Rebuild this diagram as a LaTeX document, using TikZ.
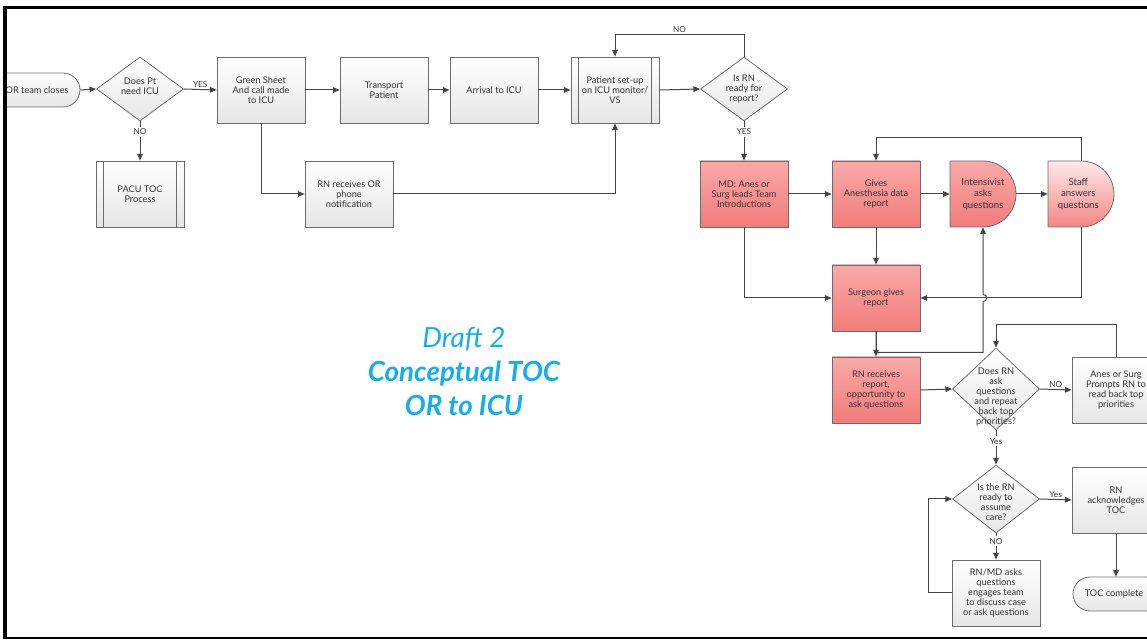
\documentclass[tikz,border=0pt]{standalone}
\usepackage{fontspec}
\setmainfont{Lato}
\usetikzlibrary{shapes.geometric,arrows.meta,calc}
\definecolor{ln}{HTML}{454545}
\definecolor{bd}{HTML}{6C6C6C}
\definecolor{gbot}{HTML}{E6E6E6}
\definecolor{rtop}{HTML}{F9A9A9}
\definecolor{rbot}{HTML}{F27B7B}
\definecolor{stop}{HTML}{FDEAEA}
\definecolor{sbot}{HTML}{F38686}
\definecolor{tx}{HTML}{333333}
\definecolor{cy}{HTML}{14AEEE}
\begin{document}
\begin{tikzpicture}[x=0.75pt,y=-0.75pt,
  base/.style={text=tx,font=\fontsize{6.9}{7.4}\selectfont,align=center,inner sep=1pt},
  gbox/.style={base,rectangle,draw=bd,line width=0.6pt,top color=white,bottom color=gbot,minimum width=66pt,minimum height=49.5pt},
  rbox/.style={gbox,top color=rtop,bottom color=rbot},
  dec/.style={base,diamond,draw=bd,line width=0.6pt,top color=white,bottom color=gbot,inner sep=0pt,minimum width=65.25pt,minimum height=48pt},
  ghost/.style={base,rectangle,minimum width=49.5pt,minimum height=49.5pt,font=\fontsize{7.2}{8.6}\selectfont},
  ghostT/.style={base,rectangle,minimum width=66pt,minimum height=25.5pt},
  shp/.style={draw=bd,line width=0.6pt},
  conn/.style={draw=ln,line width=0.75pt,-{Triangle[length=5pt,width=4.2pt]}},
  lbl/.style={font=\fontsize{6.2}{7}\selectfont,text=tx,inner sep=1pt},
  lblw/.style={lbl,fill=white,inner sep=1.5pt},
  title/.style={text=cy,align=center,font=\fontsize{20.8}{25.5}\selectfont}
]
\useasboundingbox (0,0) rectangle (1147,641);
\begin{scope}
\clip (6,8.5) rectangle (1147,637.5);

% ---- terminal: OR team closes
\path[shp,top color=white,bottom color=gbot,rounded corners=12.75pt] (-10,73) rectangle (80,107);
\node[ghostT,minimum width=64.5pt] (orc) at (37,90) {OR team closes};

% ---- first row
\node[dec,label={[base,yshift=2pt]center:{Does Pt\\need ICU}}] (d1) at (140,89) {};
\node[gbox] (green) at (261,90) {Green Sheet\\And call made\\to ICU};
\node[gbox] (trans) at (384,90) {Transport\\Patient};
\node[gbox] (arr) at (494,90) {Arrival to ICU};
\node[gbox] (setup) at (615,90) {Patient set-up\\on ICU monitor/\\VS};
\draw[bd,line width=0.6pt] ([xshift=6pt]setup.north west) -- ([xshift=6pt]setup.south west)
  ([xshift=-6pt]setup.north east) -- ([xshift=-6pt]setup.south east);
\node[dec,label={[base]center:{Is RN\\ready for\\report?}}] (isrn) at (744,89) {};

% ---- second row
\node[gbox] (pacu) at (140,194) {PACU TOC\\Process};
\draw[bd,line width=0.6pt] ([xshift=6pt]pacu.north west) -- ([xshift=6pt]pacu.south west)
  ([xshift=-6pt]pacu.north east) -- ([xshift=-6pt]pacu.south east);
\node[gbox] (rnor) at (349,194) {RN receives OR\\phone\\notification};

% ---- red section
\node[rbox] (md) at (744,194) {MD: Anes or\\Surg leads Team\\Introductions};
\node[rbox] (gives) at (876,194) {Gives\\Anesthesia data\\report};
\path[shp,top color=rtop,bottom color=rbot] (950,161) -- (983,161)
  .. controls (1001.2,161) and (1016,175.8) .. (1016,194)
  .. controls (1016,212.2) and (1001.2,227) .. (983,227) -- (950,227) -- cycle;
\node[ghost] (int) at (983,194) {Intensivist\\asks\\questions};
\path[shp,top color=stop,bottom color=sbot] (1048,161) -- (1081,161)
  .. controls (1099.2,161) and (1114,175.8) .. (1114,194)
  .. controls (1114,212.2) and (1099.2,227) .. (1081,227) -- (1048,227) -- cycle;
\node[ghost] (staff) at (1081,194) {\hspace*{-4pt}Staff\\\hspace*{-4pt}answers\\\hspace*{-4pt}questions};
\node[rbox] (surg) at (876,298) {Surgeon gives\\report};
\node[rbox] (rnr) at (876,390) {RN receives\\report,\\opportunity to\\ask questions};

% ---- lower right
\node[dec,minimum height=82pt*0.75,label={[base,yshift=-6pt]center:{Does RN\\ask\\questions\\and repeat\\back top\\priorities?}}] (d3) at (996,389) {};
\node[gbox] (prompt) at (1116,390) {Anes or Surg\\Prompts RN to\\read back top\\priorities};
\node[dec,minimum height=68pt*0.75,label={[base,yshift=-2.2pt]center:{Is the RN\\ready to\\assume\\care?}}] (d4) at (996,499) {};
\node[gbox] (ack) at (1116,500) {RN\\acknowledges\\TOC};
\node[gbox] (rnmd) at (996,593) {RN/MD asks\\questions\\engages team\\to discuss case\\or ask questions};
\path[shp,top color=white,bottom color=gbot,rounded corners=12.75pt] (1073,577) rectangle (1163,611);
\node[ghostT] (toc) at (1116,594) {\hspace*{-3pt}TOC complete};

% ---- title text
\node[title] (ttl) at (464,372) {\itshape Draft 2\\\bfseries\itshape Conceptual TOC\\\bfseries\itshape OR to ICU};

% ---- connectors
\draw[conn] (orc.east) -- (d1.west);
\draw[conn] (d1.east) -- node[lbl,above]{YES} (green.west);
\draw[conn] (d1.south) -- node[lblw,pos=0.27]{NO} (pacu.north);
\draw[conn] (green.east) -- (trans.west);
\draw[conn] (trans.east) -- (arr.west);
\draw[conn] (arr.east) -- (setup.west);
\draw[conn] (setup.east) -- (isrn.west);
\draw[conn] (green.south) |- (rnor.west);
\draw[conn] (rnor.east) -| (setup.south);
\draw[conn] (isrn.north) -- ++(0,-22) -- node[lbl,above]{NO} ($(setup.north)+(0,-22)$) -- (setup.north);
\draw[conn] (isrn.south) -- node[lblw,pos=0.27]{YES} (md.north);

\draw[conn] (md.east) -- (gives.west);
\draw[conn] (gives.east) -- (int.west);
\draw[conn] (int.east) -- (staff.west);
\draw[conn] (staff.north) -- ++(0,-23) -| (gives.north);
\draw[conn] (md.south) |- (surg.west);
\draw[conn] (gives.south) -- (surg.north);
\draw[conn] (staff.south) |- (surg.east);
\draw[conn] (surg.south) -- (rnr.north);
\draw[conn] (surg.south) -- ++(0,21) -| ($(int.south |- surg.east)+(0,3.5)$)
  to[out=0,in=0,looseness=1.8] ($(int.south |- surg.east)+(0,-3.5)$) -- (int.south);

\draw[conn] (rnr.east) -- (d3.west);
\draw[conn] (d3.east) -- node[lbl,above]{NO} (prompt.west);
\draw[conn] (prompt.north) -- ++(0,-32) -| (d3.north);
\draw[conn] (d3.south) -- node[lblw,pos=0.32]{Yes} (d4.north);
\draw[conn] (d4.east) -- node[lbl,above]{Yes} (ack.west);
\draw[conn] (d4.south) -- node[lblw,pos=0.3]{NO} (rnmd.north);
\draw[conn] (rnmd.west) -- ++(-23,0) |- (d4.west);
\draw[conn] (ack.south) -- (toc.north);
\end{scope}

% ---- frame
\draw[black,line width=2.2pt] (4,7.5) -- (1150,7.5);
\draw[black,line width=1.3pt] (4,638) -- (1150,638);
\draw[black,line width=3pt] (5.3,6) -- (5.3,639);
\end{tikzpicture}
\end{document}
